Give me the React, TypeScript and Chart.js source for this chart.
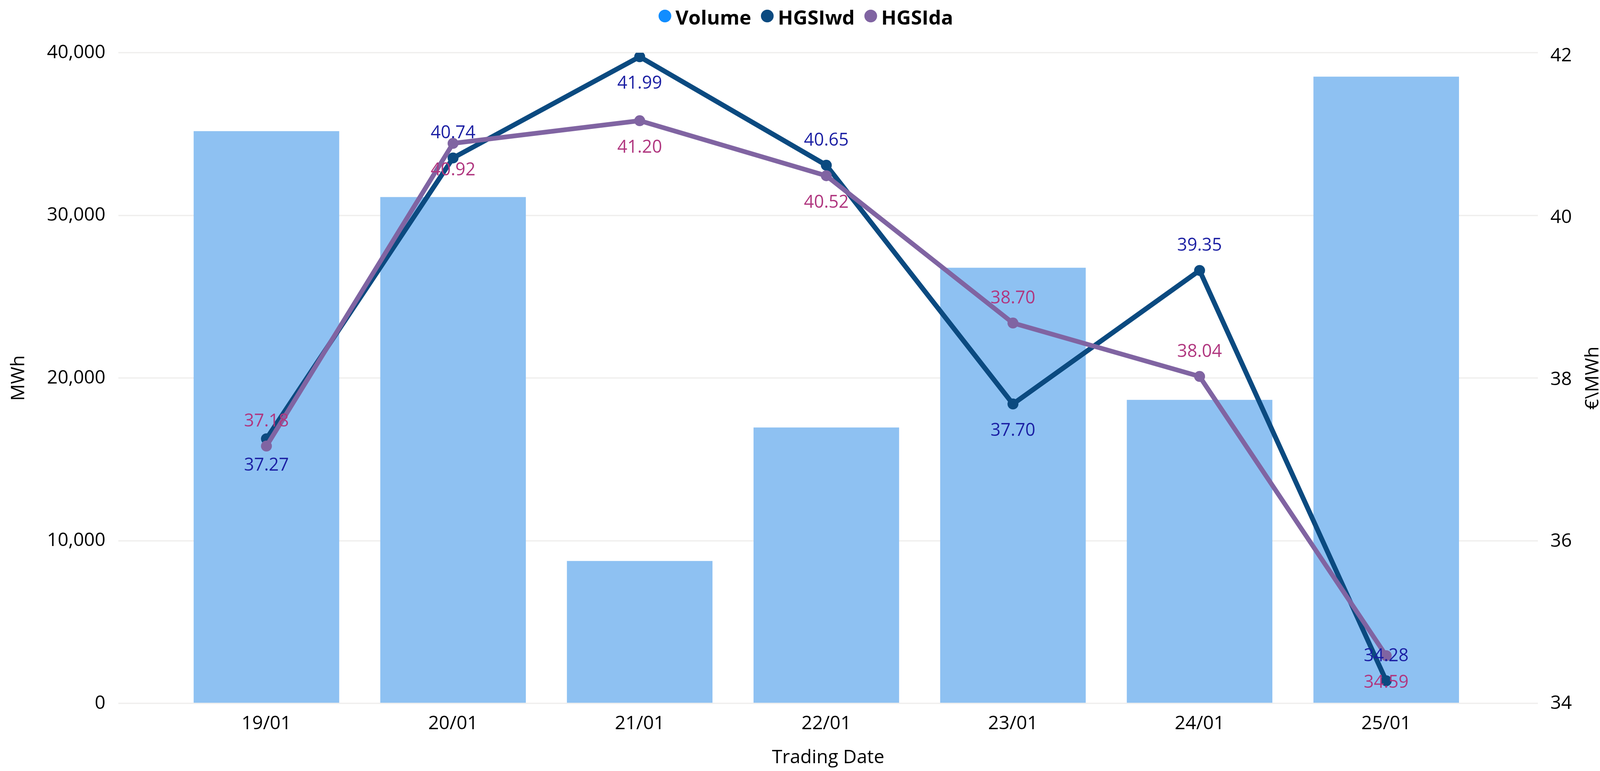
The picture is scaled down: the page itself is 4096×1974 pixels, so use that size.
import React, { useEffect, useRef } from 'react';
import { Chart, registerables } from 'chart.js';

Chart.register(...registerables);

// ---- Data ----
const categories = ['19/01', '20/01', '21/01', '22/01', '23/01', '24/01', '25/01'];
const volume = [35180, 31130, 8760, 16960, 26780, 18660, 38530];
const hgsiWd = [37.27, 40.74, 41.99, 40.65, 37.7, 39.35, 34.28];
const hgsiDa = [37.18, 40.92, 41.2, 40.52, 38.7, 38.04, 34.59];
const seriesNames = ['Volume', 'HGSIwd', 'HGSIda'];
const leftAxisTitle = 'MWh';
const rightAxisTitle = '€\\MWh';
const xAxisTitle = 'Trading Date';

// label placement for the point labels (style, not data)
const wdLabelPos = ['below', 'above', 'below', 'above', 'below', 'above', 'above'];
const daLabelPos = ['above', 'below', 'below', 'below', 'above', 'above', 'below'];

const FONT = "'Open Sans', 'Noto Sans', sans-serif";

const pointLabelPlugin = {
  id: 'pointLabels',
  afterDatasetsDraw(chart: any, _args: any, opts: any) {
    const ctx = chart.ctx;
    const cfgs = opts.series || {};
    chart.data.datasets.forEach((ds: any, di: number) => {
      const cfg = cfgs[ds.label];
      if (!cfg) return;
      const meta = chart.getDatasetMeta(di);
      ctx.save();
      ctx.font = `${opts.size}px ${FONT}`;
      ctx.fillStyle = cfg.color;
      ctx.textAlign = 'center';
      ctx.textBaseline = 'alphabetic';
      meta.data.forEach((el: any, i: number) => {
        const v = ds.data[i].y;
        const dir = cfg.positions[i] === 'above' ? -1 : 1;
        const cy = el.y + dir * opts.offset;
        ctx.fillText(v.toFixed(2), el.x, cy + 0.357 * opts.size);
      });
      ctx.restore();
    });
  },
};

const legendPlugin = {
  id: 'topLegend',
  afterDraw(chart: any, _args: any, opts: any) {
    const ctx = chart.ctx;
    ctx.save();
    ctx.font = `bold ${opts.size}px ${FONT}`;
    const r = opts.radius;
    const items = chart.data.datasets.map((ds: any, i: number) => ({
      text: ds.label,
      color: opts.colors[i],
      w: ctx.measureText(ds.label).width,
    }));
    const toText = opts.dotToText;
    const gap = opts.textToNextDot - r;
    let total = 0;
    items.forEach((it: any, i: number) => {
      total += r + toText + it.w;
      if (i < items.length - 1) total += gap;
    });
    let x = chart.width / 2 + opts.shift - total / 2;
    const cy = opts.centerY;
    items.forEach((it: any) => {
      const cx = x + r;
      ctx.beginPath();
      ctx.fillStyle = it.color;
      ctx.arc(cx, cy, r, 0, Math.PI * 2);
      ctx.fill();
      ctx.fillStyle = '#000';
      ctx.textAlign = 'left';
      ctx.textBaseline = 'alphabetic';
      ctx.fillText(it.text, cx + toText, opts.baseline);
      x = cx + toText + it.w + gap;
    });
    ctx.restore();
  },
};

const rightTitlePlugin = {
  id: 'rightTitle',
  afterDraw(chart: any, _args: any, opts: any) {
    const s = chart.scales.y1;
    if (!s) return;
    const ctx = chart.ctx;
    ctx.save();
    ctx.font = `${opts.size}px ${FONT}`;
    ctx.fillStyle = '#000';
    ctx.textAlign = 'center';
    ctx.textBaseline = 'alphabetic';
    ctx.translate(s.right - opts.inset, (s.top + s.bottom) / 2);
    ctx.rotate(-Math.PI / 2);
    ctx.fillText(opts.text, 0, 0);
    ctx.restore();
  },
};

export default function App() {
  const ref = useRef<HTMLCanvasElement | null>(null);

  useEffect(() => {
    document.body.style.margin = '0';
    document.body.style.overflow = 'hidden';
    const canvas = ref.current;
    if (!canvas) return;

    const chart = new Chart(canvas, {
      type: 'bar',
      data: {
        datasets: [
          {
            type: 'bar',
            label: seriesNames[0],
            data: categories.map((_, i) => ({ x: i, y: volume[i] })),
            backgroundColor: '#8EC1F2',
            yAxisID: 'y',
            xAxisID: 'x',
            barPercentage: 0.78,
            categoryPercentage: 1,
            order: 3,
          } as any,
          {
            type: 'line',
            label: seriesNames[1],
            data: categories.map((_, i) => ({ x: i, y: hgsiWd[i] })),
            borderColor: '#0B4A80',
            backgroundColor: '#0B4A80',
            pointBackgroundColor: '#0B4A80',
            borderWidth: 12.5,
            pointRadius: 14,
            pointBorderWidth: 0,
            tension: 0,
            borderJoinStyle: 'round',
            yAxisID: 'y1',
            xAxisID: 'x',
            order: 2,
          } as any,
          {
            type: 'line',
            label: seriesNames[2],
            data: categories.map((_, i) => ({ x: i, y: hgsiDa[i] })),
            borderColor: '#8064A2',
            backgroundColor: '#8064A2',
            pointBackgroundColor: '#8064A2',
            borderWidth: 12,
            pointRadius: 14,
            pointBorderWidth: 0,
            tension: 0,
            borderJoinStyle: 'round',
            yAxisID: 'y1',
            xAxisID: 'x',
            order: 1,
          } as any,
        ],
      },
      options: {
        responsive: false,
        devicePixelRatio: 1,
        animation: false,
        layout: { padding: { top: 135, left: 0, right: 0, bottom: 0 } },
        font: { family: FONT },
        plugins: {
          legend: { display: false },
          tooltip: { enabled: false },
          pointLabels: {
            size: 45,
            offset: 66,
            series: {
              HGSIwd: { color: '#1B1FA3', positions: wdLabelPos },
              HGSIda: { color: '#B0367F', positions: daLabelPos },
            },
          },
          topLegend: {
            size: 51,
            radius: 16.3,
            dotToText: 27,
            textToNextDot: 41,
            centerY: 41,
            baseline: 62.5,
            shift: 15,
            colors: ['#118DFF', '#0B4A80', '#8064A2'],
          },
          rightTitle: { text: rightAxisTitle, size: 48, inset: 4 },
        } as any,
        scales: {
          x: {
            type: 'linear',
            position: 'bottom',
            offset: false,
            min: -0.7934,
            max: 6.8127,
            grid: { display: false, drawTicks: false, offset: false },
            border: { display: false },
            ticks: {
              stepSize: 1,
              includeBounds: false,
              autoSkip: false,
              maxRotation: 0,
              minRotation: 0,
              padding: 24,
              color: '#000',
              font: { family: FONT, size: 48 },
              callback: (v: any) => categories[v as number] ?? '',
            },
            title: {
              display: true,
              text: xAxisTitle,
              color: '#000',
              font: { family: FONT, size: 48 },
              padding: { top: 0, bottom: 5 },
            },
            afterFit: (s: any) => {
              s.height = 173;
            },
          } as any,
          y: {
            type: 'linear',
            position: 'left',
            min: 0,
            max: 40000,
            grid: { color: '#F0EFEE', lineWidth: 3.5, drawTicks: false },
            border: { display: false },
            ticks: {
              stepSize: 10000,
              padding: 33,
              color: '#000',
              font: { family: FONT, size: 48 },
              callback: (v: any) => Number(v).toLocaleString('en-US'),
            },
            title: {
              display: true,
              text: leftAxisTitle,
              color: '#000',
              font: { family: FONT, size: 48 },
              padding: { top: 20, bottom: 0 },
            },
            afterFit: (s: any) => {
              s.width = 303;
            },
          } as any,
          y1: {
            type: 'linear',
            position: 'right',
            min: 34,
            max: 42.04,
            grid: { display: false, drawTicks: false },
            border: { display: false },
            ticks: {
              stepSize: 2,
              includeBounds: false,
              padding: 32,
              color: '#000',
              font: { family: FONT, size: 48 },
            },
            afterFit: (s: any) => {
              s.width = 159;
            },
          } as any,
        },
      },
      plugins: [pointLabelPlugin, legendPlugin, rightTitlePlugin],
    } as any);

    return () => {
      chart.destroy();
    };
  }, []);

  return (
    <div style={{ width: 4096, height: 1974, background: '#fff' }}>
      <canvas ref={ref} width={4096} height={1974} style={{ display: 'block', width: 4096, height: 1974 }} />
    </div>
  );
}
